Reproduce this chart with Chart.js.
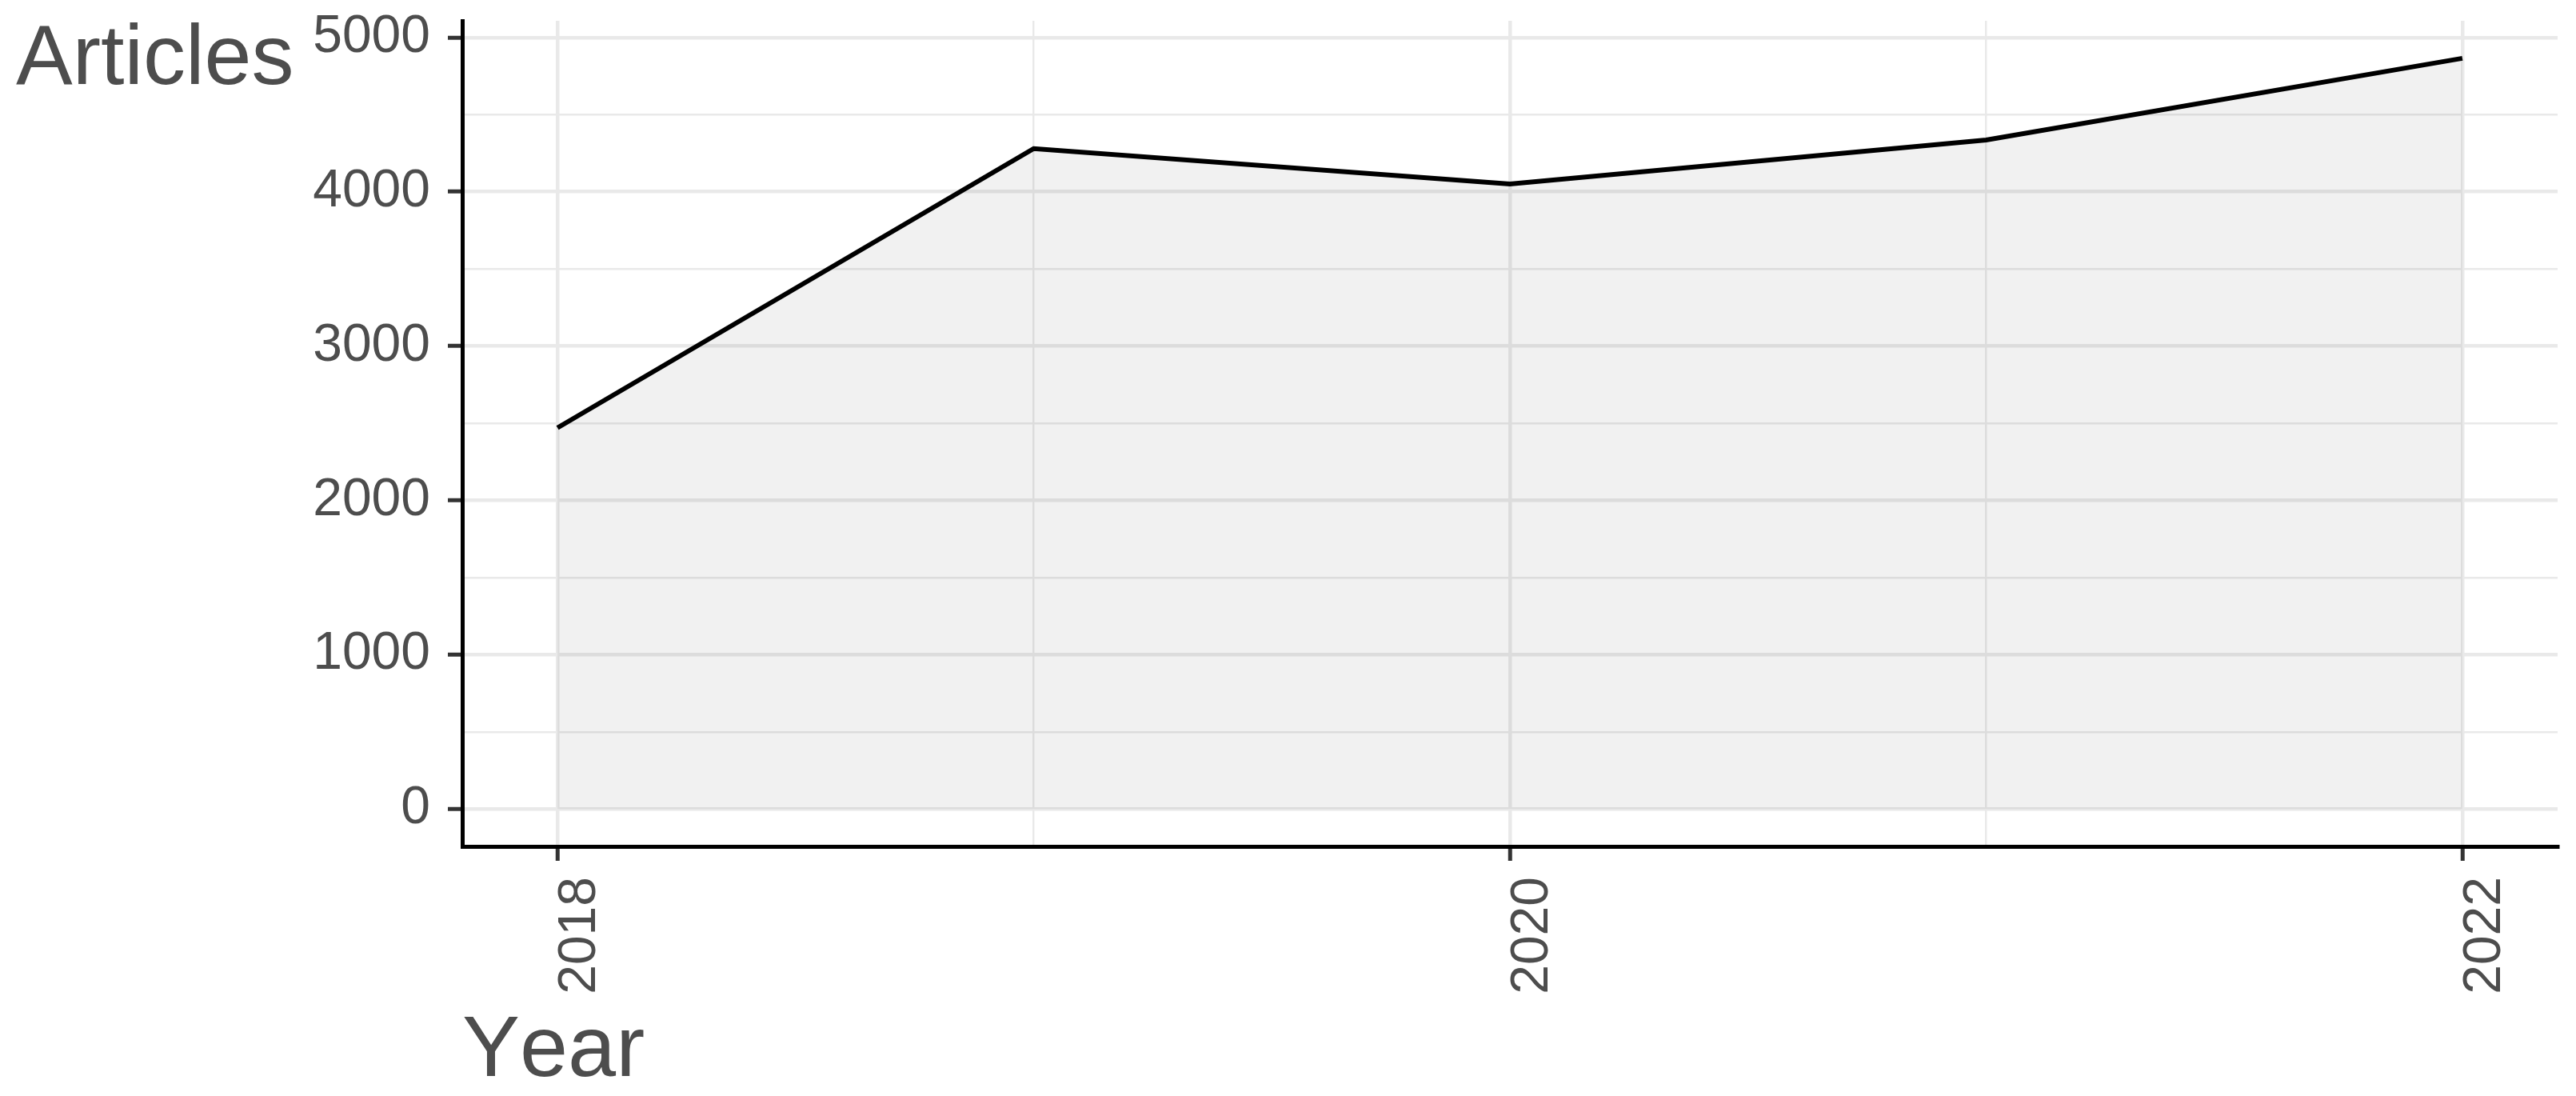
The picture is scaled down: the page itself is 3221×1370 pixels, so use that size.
<!DOCTYPE html>
<html>
<head>
<meta charset="utf-8">
<script src="https://cdn.jsdelivr.net/npm/chart.js@4/dist/chart.umd.min.js"></script>
<style>
html,body{margin:0;padding:0;background:#fff;overflow:hidden}
#wrap{width:3221px;height:1370px;position:relative}
</style>
</head>
<body>
<div id="wrap"><canvas id="c" width="3221" height="1370"></canvas></div>
<script>
// ---- data ----
const years = [2018, 2019, 2020, 2021, 2022];
const articles = [2470, 4280, 4050, 4335, 4865];
const xTickValues = [2018, 2019, 2020, 2021, 2022];
const xLabelled = [2018, 2020, 2022];
const yTickValues = [0, 500, 1000, 1500, 2000, 2500, 3000, 3500, 4000, 4500, 5000];
const yLabelled = [0, 1000, 2000, 3000, 4000, 5000];
const xTitle = 'Year';
const yTitle = 'Articles';

const FONT = '"Liberation Sans", Arial, Helvetica, sans-serif';
const TEXT = '#4d4d4d';

const titlePlugin = {
  id: 'titles',
  afterDraw(chart) {
    const ctx = chart.ctx;
    ctx.save();
    ctx.fillStyle = TEXT;
    ctx.textAlign = 'left';
    ctx.textBaseline = 'alphabetic';
    try { ctx.fontKerning = 'none'; } catch (e) {}
    ctx.font = '106px ' + FONT;
    ctx.fillText(yTitle, 20, 105);
    ctx.font = '108px ' + FONT;
    ctx.fillText(xTitle, chart.chartArea.left, 1345);
    ctx.restore();
  }
};

const gridFor = (labelled) => ({
  color: '#e9e9e9',
  lineWidth: c => (c.tick && labelled.includes(c.tick.value)) ? 4.5 : 2.4,
  tickLength: 18,
  tickWidth: 5,
  tickColor: c => (c.tick && labelled.includes(c.tick.value)) ? '#333333' : 'rgba(0,0,0,0)'
});

const noPad = s => { s.paddingTop = 0; s.paddingBottom = 0; s.paddingLeft = 0; s.paddingRight = 0; };

new Chart(document.getElementById('c'), {
  type: 'line',
  data: {
    datasets: [{
      data: years.map((y, i) => ({x: y, y: articles[i]})),
      borderColor: '#000000',
      borderWidth: 6,
      backgroundColor: 'rgba(0,0,0,0.055)',
      fill: 'origin',
      tension: 0,
      pointRadius: 0,
      pointHoverRadius: 0
    }]
  },
  options: {
    responsive: false,
    animation: false,
    devicePixelRatio: 1,
    layout: {padding: {top: 26, right: 23, left: 0, bottom: 0}},
    plugins: {legend: {display: false}, tooltip: {enabled: false}},
    scales: {
      x: {
        type: 'linear',
        min: 2017.8,
        max: 2022.2,
        afterBuildTicks: s => { s.ticks = xTickValues.map(v => ({value: v})); },
        afterFit: s => { s.height = 312; noPad(s); },
        ticks: {
          callback: v => xLabelled.includes(v) ? String(v) : '',
          minRotation: 90,
          maxRotation: 90,
          autoSkip: false,
          font: {family: FONT, size: 66},
          color: TEXT,
          padding: 20,
          labelOffset: 29
        },
        grid: gridFor(xLabelled),
        border: {color: '#000000', width: 5}
      },
      y: {
        type: 'linear',
        min: -243,
        max: 5108,
        afterBuildTicks: s => { s.ticks = yTickValues.map(v => ({value: v})); },
        afterFit: s => { s.width = 578; noPad(s); },
        ticks: {
          callback: v => yLabelled.includes(v) ? String(v) : '',
          autoSkip: false,
          font: {family: FONT, size: 66},
          color: TEXT,
          padding: 22
        },
        grid: gridFor(yLabelled),
        border: {color: '#000000', width: 5}
      }
    }
  },
  plugins: [titlePlugin]
});
</script>
</body>
</html>
